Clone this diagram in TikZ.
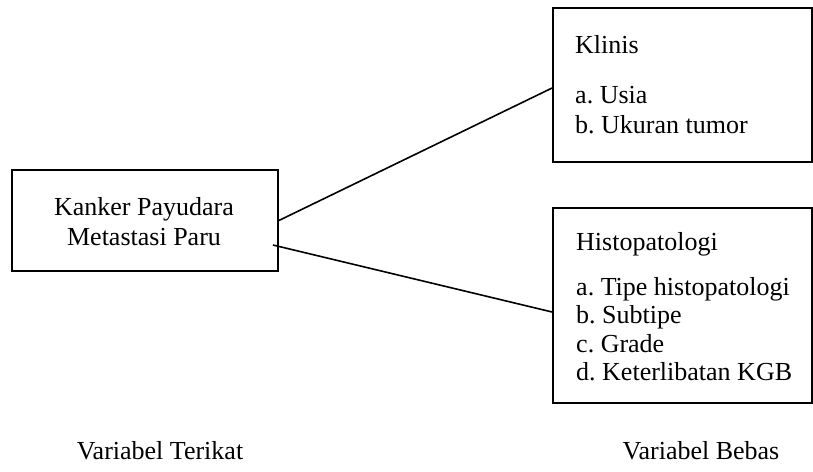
\documentclass[tikz,border=0pt]{standalone}
\usepackage{fontspec}
\setmainfont{Liberation Serif}
\frenchspacing
\begin{document}
\begin{tikzpicture}[x=1pt,y=-1pt,
  box/.style={draw,line width=1.8pt,rectangle,inner sep=0pt},
  txt/.style={inner sep=0pt,anchor=base west,font=\fontsize{26}{30}\selectfont\frenchspacing},
  ctxt/.style={inner sep=0pt,anchor=base,font=\fontsize{26}{30}\selectfont},
  link/.style={line width=1.6pt}]
\useasboundingbox (0,0) rectangle (813,471);
\node[box,minimum width=266pt,minimum height=101pt] (left) at (145,220.5) {};
\node[box,minimum width=259pt,minimum height=154pt] (klinis) at (682.5,85) {};
\node[box,minimum width=259pt,minimum height=195pt] (histo) at (682.5,305.5) {};
\node[ctxt] (l1) at (144,215) {Kanker Payudara};
\node[ctxt] (l2) at (144,245) {Metastasi Paru};
\node[txt] (k0) at (575,53) {Klinis};
\node[txt] (k1) at (575,103) {a. Usia};
\node[txt] (k2) at (575,133) {b. Ukuran tumor};
\node[txt] (h0) at (576,250) {Histopatologi};
\node[txt] (h1) at (576,295) {a. Tipe histopatologi};
\node[txt] (h2) at (576,323) {b. Subtipe};
\node[txt] (h3) at (576,352) {c. Grade};
\node[txt] (h4) at (576,380) {d. Keterlibatan KGB};
\node[ctxt] (vt) at (160,459) {Variabel Terikat};
\node[ctxt] (vb) at (701,459) {Variabel Bebas};
\draw[link] (left.east) -- ([yshift=-3pt]klinis.west);
\draw[link] ([xshift=-6pt,yshift=-24.5pt]left.east) -- ([yshift=-6.5pt]histo.west);
\end{tikzpicture}
\end{document}
